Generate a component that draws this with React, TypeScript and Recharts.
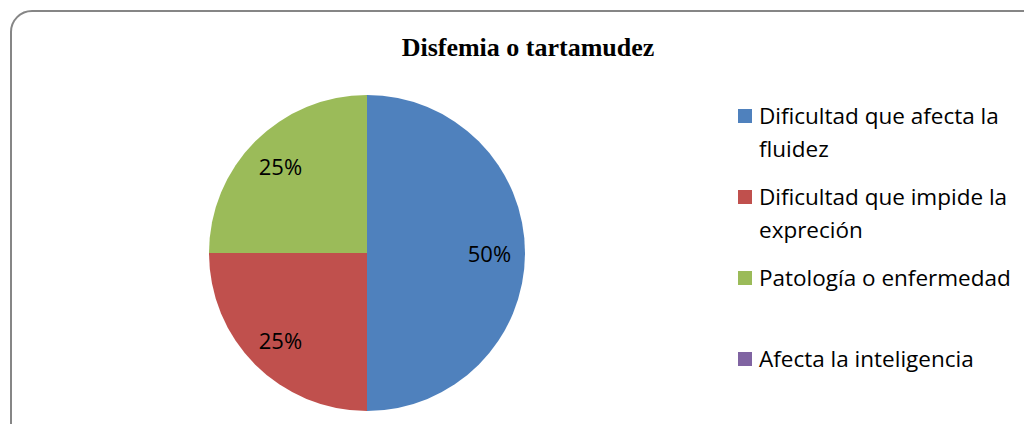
import React from "react";
import { PieChart, Pie, Cell } from "recharts";

const categories = [
  "Dificultad que afecta la fluidez",
  "Dificultad que impide la expreción",
  "Patología o enfermedad",
  "Afecta la inteligencia",
];
const values = [50, 25, 25, 0];
const colors = ["#4F81BD", "#C0504D", "#9BBB59", "#8064A2"];
const title = "Disfemia o tartamudez";

const data = categories.map((name, i) => ({ name, value: values[i] }));
const total = values.reduce((a, b) => a + b, 0);

const RAD = Math.PI / 180;
const FONT = "'Open Sans', 'Noto Sans', sans-serif";

const renderLabel = (props: any) => {
  const { cx, cy, midAngle, outerRadius, value } = props;
  if (!value) return null;
  const r = outerRadius * 0.775;
  const x = cx + r * Math.cos(-midAngle * RAD);
  const y = cy + r * Math.sin(-midAngle * RAD);
  return (
    <text
      x={x}
      y={y}
      fill="#000"
      fontSize={22}
      fontFamily={FONT}
      textAnchor="middle"
      dominantBaseline="central"
    >
      {`${Math.round((value / total) * 100)}%`}
    </text>
  );
};

function LegendBox() {
  return (
    <div style={{ position: "absolute", left: 738, top: 0, fontFamily: FONT, fontSize: 22.5, color: "#000" }}>
      {categories.map((name, i) => (
        <div
          key={name}
          style={{
            position: "absolute",
            top: 99 + i * 81,
            left: 0,
            paddingLeft: 21,
            width: 290,
            boxSizing: "border-box",
            lineHeight: "33px",
          }}
        >
          <span
            style={{
              position: "absolute",
              left: 0,
              top: 10,
              width: 14,
              height: 14,
              background: colors[i],
            }}
          />
          {name}
        </div>
      ))}
    </div>
  );
}

export default function App() {
  return (
    <div
      style={{
        position: "relative",
        width: 1032,
        height: 432,
        margin: -8,
        overflow: "hidden",
        background: "#fff",
      }}
    >
      <div
        style={{
          position: "absolute",
          left: 10,
          top: 10,
          width: 1042,
          height: 442,
          border: "2px solid #868686",
          borderRadius: 22,
          boxSizing: "border-box",
        }}
      />
      <div
        style={{
          position: "absolute",
          left: 0,
          top: 32,
          width: 1056,
          textAlign: "center",
          fontFamily: "'Liberation Serif', 'Times New Roman', serif",
          fontWeight: "bold",
          fontSize: 26,
          lineHeight: "32px",
        }}
      >
        {title}
      </div>
      <div style={{ position: "absolute", left: 0, top: 0 }}>
        <PieChart width={1032} height={432} margin={{ top: 0, right: 0, bottom: 0, left: 0 }}>
          <Pie
            data={data}
            dataKey="value"
            nameKey="name"
            cx={367}
            cy={253}
            outerRadius={158}
            startAngle={90}
            endAngle={-270}
            stroke="none"
            label={renderLabel}
            labelLine={false}
            isAnimationActive={false}
          >
            {data.map((d, i) => (
              <Cell key={d.name} fill={colors[i]} />
            ))}
          </Pie>
        </PieChart>
      </div>
      <LegendBox />
    </div>
  );
}
